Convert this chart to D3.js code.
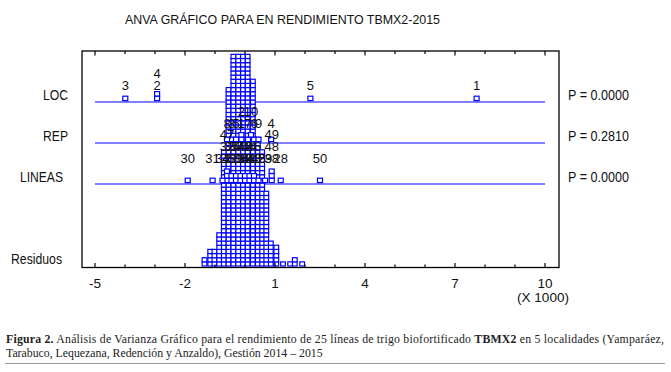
<!DOCTYPE html>
<html>
<head>
<meta charset="utf-8">
<script src="https://cdn.jsdelivr.net/npm/d3@7"></script>
<style>
body { margin: 0; background: #fff; }
svg text { font-family: "Liberation Sans", Arial, sans-serif; fill: #111; }
svg text.cap { font-family: "Liberation Serif", "Times New Roman", serif; fill: #222; }
</style>
</head>
<body>
<svg id="chart" width="671" height="372"></svg>
<script>
var rows = ['LOC', 'REP', 'LINEAS', '', 'Residuos'];
var pValues = ['P = 0.0000', 'P = 0.2810', 'P = 0.0000'];
var xTicks = [-5, -2, 1, 4, 7, 10];

// scaled effects, in thousands
var locLevels = ['1', '2', '3', '4', '5'];
var locEffects = [7.72, -2.93, -3.99, -2.93, 2.18];

var repLevels = ['1', '3', '5', '7', '2', '4', '6', '8', '9', '10'];
var repEffects = [-0.12, -0.45, -0.3, 0.1, -0.12, 0.87, 0.3, -0.6, 0.45, 0.2];

var lineLevels = ['26', '27', '28', '29', '30', '31', '32', '33', '34', '35', '36', '37', '38',
  '39', '40', '41', '42', '43', '44', '45', '46', '47', '48', '49', '50'];
var lineEffects = [-0.6, -0.45, 1.19, 0.67, -1.91, -1.08, -0.6, -0.3, -0.75, -0.45, -0.15, -0.3, 0.89,
  0.0, -0.15, 0.15, 0.0, 0.3, 0.15, 0.45, 0.3, -0.6, 0.89, 0.89, 2.5];

// residual dot plot: column centres and counts
var residBins = [-1.35, -1.16, -1.02, -0.86, -0.705, -0.55, -0.388, -0.227, -0.067, 0.088,
  0.262, 0.428, 0.572, 0.71, 0.86, 1.043, 1.267, 1.505, 1.66, 1.905];
var residCounts = [2, 4, 4, 8, 28, 43, 51, 51, 51, 51, 45, 31, 28, 18, 6, 5, 1, 1, 2, 1];

var svg = d3.select('#chart');
var blue = '#0000ff';

var x = d3.scaleLinear().domain([-5, 10]).range([95, 545]);
var y = d3.scalePoint().domain(rows).range([102, 266]);

var box = {left: 82, right: 559, top: 51, bottom: 267.5};

svg.append('text')
  .attr('x', 125).attr('y', 24)
  .attr('font-size', 13)
  .attr('textLength', 315).attr('lengthAdjust', 'spacingAndGlyphs')
  .text('ANVA GRÁFICO PARA EN RENDIMIENTO TBMX2-2015');

// effect lines
svg.selectAll('line.eff')
  .data(rows.slice(0, 3))
  .enter().append('line')
  .attr('class', 'eff')
  .attr('x1', x(-5)).attr('x2', x(10))
  .attr('y1', function(d){ return y(d); })
  .attr('y2', function(d){ return y(d); })
  .attr('stroke', blue).attr('stroke-width', 1.2);

// residual stacks
var cw = 4.7, ch = 4.15;
var resid = [];
residBins.forEach(function(b, i) {
  for (var k = 0; k < residCounts[i]; k++) resid.push({v: b, k: k});
});
svg.selectAll('rect.res')
  .data(resid)
  .enter().append('rect')
  .attr('class', 'res')
  .attr('x', function(d){ return x(d.v) - cw / 2; })
  .attr('y', function(d){ return y('Residuos') - (d.k + 1) * ch; })
  .attr('width', cw).attr('height', ch)
  .attr('fill', '#fff').attr('stroke', blue).attr('stroke-width', 1.2);

function stackUp(levels, effects) {
  var seen = {};
  return levels.map(function(l, i) {
    var key = Math.round(effects[i] / 0.16);
    seen[key] = (seen[key] || 0) + 1;
    return {label: l, v: effects[i], k: seen[key] - 1};
  });
}

var groups = [
  {row: 'LOC', pts: stackUp(locLevels, locEffects), lab: 17},
  {row: 'REP', pts: stackUp(repLevels, repEffects), lab: 20},
  {row: 'LINEAS', pts: stackUp(lineLevels, lineEffects), lab: 26}
];

groups.forEach(function(g) {
  var base = y(g.row);
  svg.selectAll(null)
    .data(g.pts)
    .enter().append('rect')
    .attr('x', function(d){ return x(d.v) - 2.5; })
    .attr('y', function(d){ return base - 5.8 - d.k * 4.6; })
    .attr('width', 5).attr('height', 4.4)
    .attr('fill', '#fff').attr('stroke', blue).attr('stroke-width', 1.2);
});

groups.forEach(function(g) {
  var base = y(g.row);
  svg.selectAll(null)
    .data(g.pts)
    .enter().append('text')
    .attr('x', function(d){ return x(d.v); })
    .attr('y', function(d){ return base - g.lab - d.k * 12 + 4.7; })
    .attr('text-anchor', 'middle')
    .attr('font-size', 13)
    .text(function(d){ return d.label; });
});

// row names and p values
var nameW = {LOC: 25, REP: 25, LINEAS: 43, Residuos: 51};
var nameRight = {LOC: 68, REP: 68, LINEAS: 63, Residuos: 62};
svg.selectAll('text.row')
  .data(rows.filter(function(r){ return r; }))
  .enter().append('text')
  .attr('class', 'row')
  .attr('x', function(d){ return nameRight[d] - nameW[d]; })
  .attr('y', function(d){ return y(d) - 2; })
  .attr('font-size', 14)
  .attr('textLength', function(d){ return nameW[d]; })
  .attr('lengthAdjust', 'spacingAndGlyphs')
  .text(function(d){ return d; });

svg.selectAll('text.pv')
  .data(pValues)
  .enter().append('text')
  .attr('class', 'pv')
  .attr('x', 568)
  .attr('y', function(d, i){ return y(rows[i]) - 2; })
  .attr('font-size', 14)
  .attr('textLength', 61).attr('lengthAdjust', 'spacingAndGlyphs')
  .text(function(d){ return d; });

// frame and ticks
svg.append('rect')
  .attr('x', box.left).attr('y', box.top)
  .attr('width', box.right - box.left).attr('height', box.bottom - box.top)
  .attr('fill', 'none').attr('stroke', '#000').attr('stroke-width', 1.3);

var allTicks = d3.range(-5, 11);
function tickLen(t){ return xTicks.indexOf(t) >= 0 ? 4.5 : 3; }
svg.selectAll('line.tb')
  .data(allTicks)
  .enter().append('line')
  .attr('x1', function(d){ return x(d); }).attr('x2', function(d){ return x(d); })
  .attr('y1', box.bottom).attr('y2', function(d){ return box.bottom - tickLen(d); })
  .attr('stroke', '#000').attr('stroke-width', 1.2);
svg.selectAll('line.tt')
  .data(allTicks)
  .enter().append('line')
  .attr('x1', function(d){ return x(d); }).attr('x2', function(d){ return x(d); })
  .attr('y1', box.top).attr('y2', function(d){ return box.top + tickLen(d); })
  .attr('stroke', '#000').attr('stroke-width', 1.2);

svg.selectAll('text.xt')
  .data(xTicks)
  .enter().append('text')
  .attr('class', 'xt')
  .attr('x', function(d){ return x(d); })
  .attr('y', 288)
  .attr('text-anchor', 'middle')
  .attr('font-size', 13.5)
  .text(function(d){ return d; });

svg.append('text')
  .attr('x', x(10) - 2).attr('y', 302)
  .attr('text-anchor', 'middle')
  .attr('font-size', 13.5)
  .text('(X 1000)');

// caption
var cap1 = svg.append('text').attr('class', 'cap')
  .attr('x', 6).attr('y', 343).attr('font-size', 11.8)
  .attr('textLength', 658).attr('lengthAdjust', 'spacing');
cap1.append('tspan').attr('font-weight', 'bold').text('Figura 2.');
cap1.append('tspan').text(' Análisis de Varianza Gráfico para el rendimiento de 25 líneas de trigo biofortificado ');
cap1.append('tspan').attr('font-weight', 'bold').text('TBMX2');
cap1.append('tspan').text(' en 5 localidades (Yamparáez,');

svg.append('text').attr('class', 'cap')
  .attr('x', 6).attr('y', 357).attr('font-size', 11.8)
  .text('Tarabuco, Lequezana, Redención y Anzaldo), Gestión 2014 – 2015');

svg.append('line')
  .attr('x1', 5).attr('x2', 665).attr('y1', 363.5).attr('y2', 363.5)
  .attr('stroke', '#999').attr('stroke-width', 1);
</script>
</body>
</html>
